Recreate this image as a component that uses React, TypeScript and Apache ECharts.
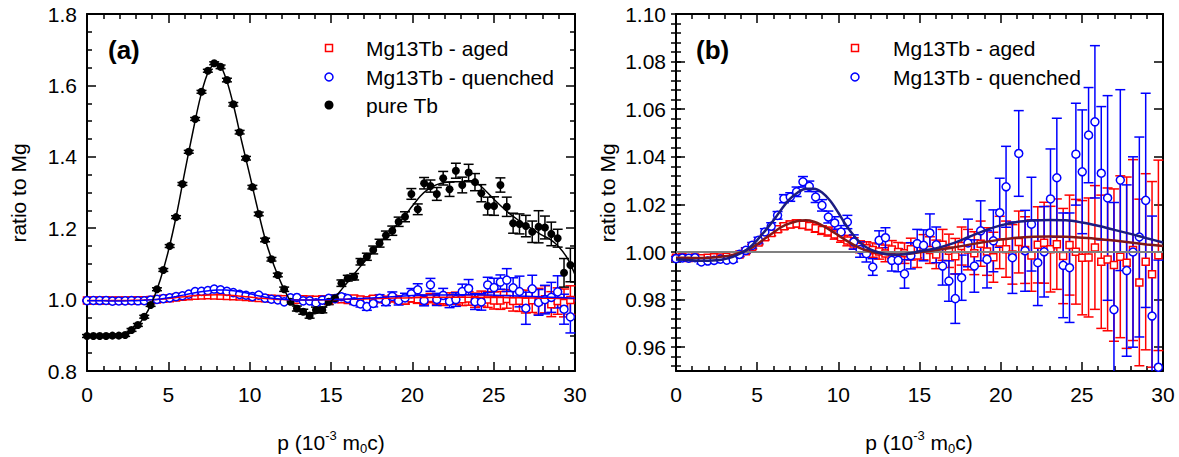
import React, { useEffect, useRef } from 'react';
import * as echarts from 'echarts';

const FONT = '"Liberation Sans", Arial, sans-serif';

// bin width of the momentum axis (10^-3 m0c)
const BIN = 0.391;
const momentum: number[] = Array.from({ length: 77 }, (_, k) => +(k * BIN).toFixed(3));

const agedY = [
  0.9976, 0.9978, 0.9975, 0.9977, 0.9974, 0.9976, 0.9978, 0.9977, 0.998, 0.9983,
  0.999, 1.0003, 1.0022, 1.004, 1.0062, 1.008, 1.0096, 1.0108, 1.0116, 1.012,
  1.0114, 1.0109, 1.01, 1.0092, 1.0086, 1.0074, 1.0062, 1.0048, 1.0036, 1.0022,
  1.0016, 1.0008, 1.0002, 0.9994, 1.001, 1.0, 0.9995, 1.0012, 0.9985, 1.002,
  1.0008, 0.999, 1.003, 1.0005, 0.9982, 1.0025, 1.001, 0.9995, 1.0035, 1.0002,
  0.9978, 1.004, 1.0012, 0.999, 1.0042, 1.0008, 0.9985, 1.003, 1.0039, 1.0012,
  1.0033, 0.9983, 1.0029, 1.0001, 0.9976, 0.9977, 1.0019, 0.9959, 0.9969, 0.9945,
  0.998, 0.9955, 1.0008, 0.9872, 0.9959, 0.9906, 0.9986,
];
const agedErr = [
  0.0006, 0.0006, 0.0006, 0.0006, 0.0006, 0.0006, 0.0006, 0.0006, 0.0006, 0.0006,
  0.0008, 0.0009, 0.001, 0.001, 0.0011, 0.0012, 0.0012, 0.0013, 0.0014, 0.0015,
  0.0015, 0.0016, 0.0017, 0.0018, 0.0019, 0.002, 0.0021, 0.0022, 0.0024, 0.0025,
  0.0027, 0.003, 0.0032, 0.0035, 0.0038, 0.004, 0.0043, 0.0046, 0.005, 0.0053,
  0.0056, 0.006, 0.0065, 0.007, 0.0075, 0.008, 0.0085, 0.009, 0.0095, 0.01,
  0.0105, 0.011, 0.0118, 0.0125, 0.013, 0.014, 0.015, 0.016, 0.017, 0.018,
  0.019, 0.02, 0.021, 0.022, 0.024, 0.025, 0.026, 0.028, 0.03, 0.032,
  0.034, 0.036, 0.038, 0.035, 0.037, 0.039, 0.04,
];
const quenchY = [
  0.9972, 0.9975, 0.9974, 0.9976, 0.9958, 0.9962, 0.9965, 0.997, 0.9966, 0.9968,
  0.999, 1.0007, 1.0028, 1.0049, 1.0084, 1.0108, 1.0154, 1.0224, 1.0231, 1.0253,
  1.0295, 1.0276, 1.0231, 1.0196, 1.0147, 1.0122, 1.0084, 1.0126, 1.0042, 1.001,
  0.9993, 0.9937, 1.0049, 1.006, 0.9965, 0.9965, 0.9908, 0.9984, 1.0035, 1.0028,
  1.008, 1.003, 0.9941, 0.9878, 0.9804, 0.9892, 1.0038, 0.9941, 1.0089, 0.9969,
  1.0047, 1.0165, 1.0274, 0.9976, 1.0414, 1.0005, 1.0117, 0.9955, 1.0001, 1.0223,
  1.0312, 0.9944, 0.9934, 1.0411, 1.0337, 1.0491, 1.0547, 1.0331, 1.0227, 0.9758,
  1.0302, 0.9922, 1.0, 1.0063, 1.0217, 0.9731, 0.9516,
];
const quenchErr = [
  0.0008, 0.0008, 0.0008, 0.0008, 0.0008, 0.0008, 0.0009, 0.0009, 0.0009, 0.001,
  0.001, 0.0011, 0.0012, 0.0013, 0.0014, 0.0015, 0.0016, 0.0017, 0.0018, 0.002,
  0.0022, 0.0022, 0.0023, 0.0024, 0.0025, 0.0026, 0.0027, 0.0028, 0.003, 0.0032,
  0.0035, 0.0035, 0.004, 0.0042, 0.0045, 0.0048, 0.006, 0.0055, 0.006, 0.0065,
  0.008, 0.0075, 0.008, 0.0085, 0.0104, 0.0095, 0.01, 0.011, 0.0126, 0.012,
  0.013, 0.0145, 0.017, 0.015, 0.018, 0.017, 0.0197, 0.018, 0.019, 0.021,
  0.025, 0.022, 0.023, 0.0214, 0.026, 0.02, 0.032, 0.028, 0.043, 0.045,
  0.038, 0.036, 0.04, 0.042, 0.045, 0.042, 0.045,
];
const tbY = [
  0.898, 0.898, 0.898, 0.898, 0.899, 0.899, 0.901, 0.915, 0.929, 0.952,
  0.985, 1.029, 1.083, 1.15, 1.231, 1.324, 1.414, 1.506, 1.582, 1.641,
  1.662, 1.652, 1.615, 1.547, 1.469, 1.396, 1.315, 1.24, 1.167, 1.113,
  1.069, 1.029, 0.994, 0.975, 0.966, 0.955, 0.971, 0.971, 0.994, 1.004,
  1.046, 1.06, 1.064, 1.106, 1.12, 1.139, 1.158, 1.18, 1.193, 1.218,
  1.232, 1.296, 1.253, 1.326, 1.318, 1.296, 1.34, 1.309, 1.361, 1.321,
  1.356, 1.329, 1.298, 1.262, 1.262, 1.321, 1.26, 1.214, 1.212, 1.206,
  1.19, 1.204, 1.202, 1.184, 1.172, 1.075, 1.097,
];
const tbErr = [
  0.004, 0.004, 0.004, 0.004, 0.004, 0.004, 0.004, 0.004, 0.004, 0.004,
  0.004, 0.004, 0.004, 0.004, 0.004, 0.004, 0.004, 0.004, 0.004, 0.004,
  0.004, 0.005, 0.005, 0.005, 0.005, 0.005, 0.005, 0.005, 0.005, 0.005,
  0.005, 0.006, 0.006, 0.007, 0.007, 0.007, 0.008, 0.008, 0.008, 0.009,
  0.009, 0.008, 0.009, 0.009, 0.01, 0.011, 0.011, 0.012, 0.013, 0.013,
  0.014, 0.015, 0.015, 0.016, 0.017, 0.018, 0.019, 0.02, 0.021, 0.022,
  0.023, 0.024, 0.024, 0.025, 0.026, 0.02, 0.027, 0.028, 0.028, 0.03,
  0.03, 0.045, 0.032, 0.033, 0.025, 0.04, 0.047,
];

// fitted curves
const tbFitP = [
  0, 0.5, 1, 1.5, 2, 2.5, 3, 3.5, 4, 4.5, 5, 5.5, 6, 6.5, 7, 7.5, 8, 8.5, 9, 9.5,
  10, 10.5, 11, 11.5, 12, 12.5, 13, 13.5, 14, 14.5, 15, 15.5, 16, 16.5, 17, 17.5, 18, 18.5, 19, 19.5,
  20, 20.5, 21, 21.5, 22, 22.5, 23, 23.5, 24, 24.5, 25, 25.5, 26, 26.5, 27, 27.5, 28, 28.5, 29, 29.5, 30,
];
const tbFit = [
  0.898, 0.898, 0.898, 0.898, 0.9, 0.907, 0.922, 0.95, 0.993, 1.055, 1.136, 1.237, 1.355, 1.468, 1.572, 1.642, 1.664, 1.625, 1.545, 1.445,
  1.35, 1.252, 1.162, 1.095, 1.04, 0.997, 0.972, 0.959, 0.96, 0.974, 0.995, 1.02, 1.048, 1.076, 1.103, 1.13, 1.158, 1.183, 1.207, 1.233,
  1.262, 1.29, 1.31, 1.322, 1.328, 1.33, 1.33, 1.33, 1.325, 1.305, 1.282, 1.26, 1.24, 1.223, 1.208, 1.194, 1.18, 1.168, 1.148, 1.118, 1.07,
];
const mgFitP = [
  0, 0.5, 1, 1.5, 2, 2.5, 3, 3.5, 4, 4.5, 5, 5.5, 6, 6.5, 7, 7.5, 8, 8.5, 9, 9.5,
  10, 10.5, 11, 11.5, 12, 12.5, 13, 13.5, 14, 14.5, 15, 16, 17, 18, 19, 20, 21, 22, 23, 24, 25, 26, 27, 28, 29, 30,
];
const quenchFit = [
  0.9968, 0.9967, 0.9965, 0.9963, 0.9963, 0.9965, 0.997, 0.998, 0.9995, 1.0017, 1.005, 1.009, 1.0132, 1.018, 1.0222, 1.025, 1.0266, 1.0266, 1.025, 1.0215,
  1.0165, 1.011, 1.0065, 1.003, 1.001, 0.9998, 0.999, 0.9988, 0.999, 0.9996, 1.0003, 1.0015, 1.0035, 1.0062, 1.009, 1.0112, 1.0126, 1.0132, 1.0134, 1.0133,
  1.0124, 1.011, 1.0093, 1.0076, 1.0058, 1.004,
];
const agedFit = [
  0.9976, 0.9976, 0.9975, 0.9975, 0.9976, 0.9978, 0.9982, 0.9988, 0.9998, 1.0012, 1.0032, 1.0058, 1.0082, 1.0105, 1.012, 1.013, 1.0133, 1.0127, 1.0112, 1.0092,
  1.007, 1.0048, 1.0028, 1.0012, 1.0002, 0.9995, 0.9991, 0.999, 0.9991, 0.9994, 0.9999, 1.0008, 1.0018, 1.003, 1.0042, 1.0052, 1.006, 1.0064, 1.0065, 1.0064,
  1.006, 1.0055, 1.0048, 1.004, 1.0032, 1.0025,
];

const yTicksB = [0.96, 0.98, 1.0, 1.02, 1.04, 1.06, 1.08, 1.1];
const yMinorB: number[] = Array.from({ length: 38 }, (_, i) => +(0.952 + 0.004 * i).toFixed(3));

const legendLabels = ['Mg13Tb - aged', 'Mg13Tb - quenched', 'pure Tb'];

const pts = (ys: number[]) => ys.map((v, i) => [momentum[i], v]);
const errPts = (ys: number[], es: number[]) => ys.map((v, i) => [momentum[i], v, es[i]]);
const linePts = (xs: number[], ys: number[]) => xs.map((x, i) => [x, ys[i]]);

const RED = '#ff0000';
const BLUE = '#0000ff';

function errSeries(data: number[][], color: string, xi: number, yi: number, ymin: number, ymax: number) {
  return {
    type: 'custom',
    xAxisIndex: xi,
    yAxisIndex: yi,
    silent: true,
    data,
    encode: { x: 0, y: 1 },
    renderItem: (params: any, api: any) => {
      const x = api.value(0);
      const y = api.value(1);
      const e = api.value(2);
      let lo = y - e;
      let hi = y + e;
      const capLo = lo >= ymin;
      const capHi = hi <= ymax;
      lo = Math.max(lo, ymin);
      hi = Math.min(hi, ymax);
      const a = api.coord([x, lo]);
      const b = api.coord([x, hi]);
      const st = { stroke: color, lineWidth: 1.5 };
      const children: any[] = [
        { type: 'line', shape: { x1: a[0], y1: a[1], x2: b[0], y2: b[1] }, style: st },
      ];
      if (capLo) children.push({ type: 'line', shape: { x1: a[0] - 5, y1: a[1], x2: a[0] + 5, y2: a[1] }, style: st });
      if (capHi) children.push({ type: 'line', shape: { x1: b[0] - 5, y1: b[1], x2: b[0] + 5, y2: b[1] }, style: st });
      return { type: 'group', children };
    },
  };
}

function scatter(data: number[][], kind: string, xi: number, yi: number) {
  const base: any = { type: 'scatter', xAxisIndex: xi, yAxisIndex: yi, data, silent: true };
  if (kind === 'aged') {
    base.symbol = 'rect';
    base.symbolSize = 7;
    base.itemStyle = { color: '#fff', borderColor: RED, borderWidth: 1.5, opacity: 1 };
  } else if (kind === 'quench') {
    base.symbol = 'circle';
    base.symbolSize = 8;
    base.itemStyle = { color: '#fff', borderColor: BLUE, borderWidth: 1.5, opacity: 1 };
  } else {
    base.symbol = 'circle';
    base.symbolSize = 8;
    base.itemStyle = { color: '#000', opacity: 1 };
  }
  return base;
}

function line(data: number[][], color: string, width: number, xi: number, yi: number) {
  return {
    type: 'line', xAxisIndex: xi, yAxisIndex: yi, data, smooth: 0.35, symbol: 'none', showSymbol: false,
    silent: true, lineStyle: { color, width },
  };
}

const axisLine = { show: true, onZero: false, lineStyle: { color: '#000', width: 2 } };
const tickStyle = { color: '#000', width: 1.5 };
const labelStyle = { fontSize: 21, fontFamily: FONT, color: '#000' };

function xAx(grid: number, pos: string, labels: boolean) {
  return {
    type: 'value', gridIndex: grid, position: pos, min: 0, max: 30, interval: 5,
    axisLine,
    axisTick: { show: true, inside: true, length: 9, lineStyle: tickStyle },
    minorTick: { show: true, splitNumber: 5, length: 5, lineStyle: tickStyle },
    axisLabel: { show: labels, margin: 13, ...labelStyle },
    splitLine: { show: false }, minorSplitLine: { show: false },
  };
}

function yAxA(pos: string, labels: boolean) {
  return {
    type: 'value', gridIndex: 0, position: pos, min: 0.8, max: 1.8, interval: 0.2,
    axisLine,
    axisTick: { show: true, inside: true, length: 9, lineStyle: tickStyle },
    minorTick: { show: true, splitNumber: 4, length: 5, lineStyle: tickStyle },
    axisLabel: { show: labels, margin: 10, ...labelStyle, formatter: (v: number) => v.toFixed(1) },
    splitLine: { show: false }, minorSplitLine: { show: false },
  };
}

function yAxB(pos: string, labels: boolean, minor: boolean) {
  return {
    type: 'value', gridIndex: 1, position: pos, min: 0.95, max: 1.1,
    axisLine: minor ? { show: false } : axisLine,
    axisTick: {
      show: true, inside: true, length: minor ? 5 : 9, lineStyle: tickStyle,
      customValues: minor ? yMinorB : yTicksB,
    },
    axisLabel: {
      show: labels, margin: 10, ...labelStyle, customValues: yTicksB,
      formatter: (v: number) => v.toFixed(2),
    },
    splitLine: { show: false }, minorSplitLine: { show: false },
  };
}

const txt = (x: number, y: number, text: string, size: number, extra: any = {}) => ({
  type: 'text', x, y, z: 100, silent: true,
  style: { text, fontSize: size, fontFamily: FONT, fill: '#000', align: 'left', verticalAlign: 'middle', ...extra },
});

const xTitle = (x: number) => ({
  type: 'text', x, y: 442, z: 100, silent: true,
  style: {
    text: '{n|p (10}{s|-3}{n| m}{b|0}{n|c)}',
    align: 'center', verticalAlign: 'middle', fill: '#000', fontFamily: FONT, fontSize: 21,
    rich: {
      n: { fontSize: 21, fontFamily: FONT, fill: '#000', lineHeight: 26, verticalAlign: 'middle' },
      s: { fontSize: 13, fontFamily: FONT, fill: '#000', lineHeight: 13, verticalAlign: 'top' },
      b: { fontSize: 13, fontFamily: FONT, fill: '#000', lineHeight: 13, verticalAlign: 'bottom' },
    },
  },
});

const yTitle = (x: number) => ({
  type: 'text', x, y: 193, rotation: Math.PI / 2, z: 100, silent: true,
  style: { text: 'ratio to Mg', fontSize: 21, fontFamily: FONT, fill: '#000', align: 'center', verticalAlign: 'middle' },
});

const legendSquare = (cx: number, cy: number) => ({
  type: 'rect', z: 100, silent: true, shape: { x: cx - 3.5, y: cy - 3.5, width: 7, height: 7 },
  style: { fill: '#fff', stroke: RED, lineWidth: 1.5 },
});
const legendCircle = (cx: number, cy: number, filled: boolean) => ({
  type: 'circle', z: 100, silent: true, shape: { cx, cy, r: filled ? 4.5 : 4 },
  style: filled ? { fill: '#000' } : { fill: '#fff', stroke: BLUE, lineWidth: 1.5 },
});

const option: any = {
  animation: false,
  backgroundColor: '#fff',
  grid: [
    { left: 87, top: 14, width: 488, height: 357 },
    { left: 676, top: 14, width: 487, height: 357 },
  ],
  xAxis: [xAx(0, 'bottom', true), xAx(0, 'top', false), xAx(1, 'bottom', true), xAx(1, 'top', false)],
  yAxis: [
    yAxA('left', true), yAxA('right', false),
    yAxB('left', true, false), yAxB('right', false, false),
    yAxB('left', false, true), yAxB('right', false, true),
  ],
  series: [
    // panel (a)
    errSeries(errPts(agedY, agedErr), RED, 0, 0, 0.8, 1.8),
    scatter(pts(agedY), 'aged', 0, 0),
    errSeries(errPts(quenchY, quenchErr), BLUE, 0, 0, 0.8, 1.8),
    scatter(pts(quenchY), 'quench', 0, 0),
    line(linePts(mgFitP, agedFit), RED, 1.5, 0, 0),
    line(linePts(mgFitP, quenchFit), BLUE, 1.5, 0, 0),
    errSeries(errPts(tbY, tbErr), '#000', 0, 0, 0.8, 1.8),
    line(linePts(tbFitP, tbFit), '#000', 1.5, 0, 0),
    scatter(pts(tbY), 'tb', 0, 0),
    // panel (b)
    line([[0, 1], [30, 1]], '#808080', 2, 2, 2),
    errSeries(errPts(agedY, agedErr), RED, 2, 2, 0.95, 1.1),
    scatter(pts(agedY), 'aged', 2, 2),
    errSeries(errPts(quenchY, quenchErr), BLUE, 2, 2, 0.95, 1.1),
    scatter(pts(quenchY), 'quench', 2, 2),
    line(linePts(mgFitP, agedFit), '#801818', 2.5, 2, 2),
    line(linePts(mgFitP, quenchFit), '#1c1c80', 2.5, 2, 2),
  ],
  graphic: [
    yTitle(18), yTitle(607),
    xTitle(331), xTitle(919),
    txt(108, 50, '(a)', 26, { fontWeight: 'bold' }),
    txt(696, 50, '(b)', 26, { fontWeight: 'bold' }),
    legendSquare(329, 48), legendCircle(329, 77, false), legendCircle(329, 105, true),
    txt(366, 48, legendLabels[0], 21),
    txt(366, 77, legendLabels[1], 21),
    txt(366, 105, legendLabels[2], 21),
    legendSquare(855, 48), legendCircle(855, 77, false),
    txt(893, 48, legendLabels[0], 21),
    txt(893, 77, legendLabels[1], 21),
  ],
};

export default function App() {
  const ref = useRef<HTMLDivElement>(null);
  useEffect(() => {
    const chart = echarts.init(ref.current as HTMLDivElement, null, { renderer: 'svg' });
    chart.setOption(option);
    return () => chart.dispose();
  }, []);
  return (
    <div
      ref={ref}
      style={{ position: 'fixed', left: 0, top: 0, width: 1179, height: 457, background: '#fff' }}
    />
  );
}
